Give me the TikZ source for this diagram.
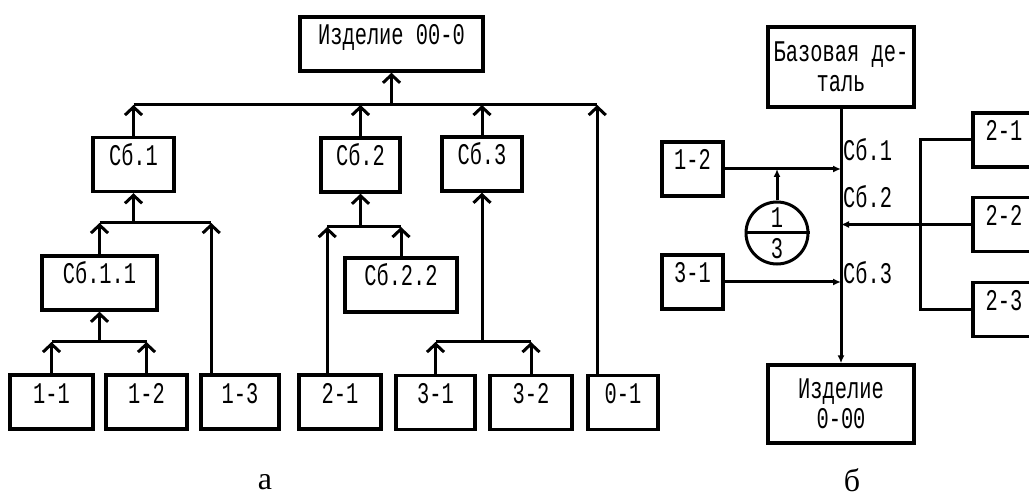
\documentclass[tikz,border=0pt]{standalone}
\usepackage{fontspec}
\setmainfont{Liberation Serif}
\newfontfamily\monofnt[FakeStretch=0.68]{Liberation Mono}
\usetikzlibrary{arrows.meta}
\newcommand{\lbl}{\monofnt\fontsize{30}{30}\selectfont}

\begin{document}
\begin{tikzpicture}[x=1pt,y=-1pt,
    blk/.style={draw,line width=3.5pt,inner sep=0pt,text height=28pt,text depth=26pt,font=\lbl},
    uparr/.style={line width=3pt,-{Straight Barb[length=8pt,width=17pt]}},
    thinarr/.style={line width=3pt,-{Latex[length=8pt,width=7pt]}}]
    \useasboundingbox (0,0) rectangle (1029,497);
    \clip (0,0) rectangle (1029,497);

    \node[blk,minimum width=183pt] (prod) at (391.5,44) {Изделие 00-0};
    \node[blk,minimum width=81pt] (sb1) at (133.5,164.5) {Сб.1};
    \node[blk,minimum width=79pt] (sb2) at (360.5,165) {Сб.2};
    \node[blk,minimum width=80pt] (sb3) at (482,164) {Сб.3};
    \node[blk,minimum width=115pt] (sb11) at (99.5,283) {Сб.1.1};
    \node[blk,minimum width=112pt] (sb22) at (401,285) {Сб.2.2};
    \node[blk,minimum width=83pt] (d11) at (51.5,402) {1-1};
    \node[blk,minimum width=81pt] (d12) at (146.5,402) {1-2};
    \node[blk,minimum width=78pt] (d13) at (240,402) {1-3};
    \node[blk,minimum width=82pt] (d21) at (340,402) {2-1};
    \node[blk,minimum width=79pt] (d31) at (435.5,402.5) {3-1};
    \node[blk,minimum width=82pt] (d32) at (531,402.5) {3-2};
    \node[blk,minimum width=70pt] (d01) at (623,402.5) {0-1};

    \coordinate (bus) at (0,105);
    \coordinate (b1) at (0,223);
    \coordinate (b2) at (0,342);
    \coordinate (b3) at (0,227);
    \coordinate (c01) at ([xshift=11pt]d01.north west);
    \coordinate (c13) at ([xshift=12pt]d13.north west);
    \coordinate (c21) at ([xshift=30pt]d21.north west);

    \draw[line width=3pt] (sb1.north |- bus) -- (c01 |- bus);
    \draw[uparr] (prod.south |- bus) -- (prod.south);
    \draw[uparr] (sb1.north) -- (sb1.north |- bus);
    \draw[uparr] (sb2.north) -- (sb2.north |- bus);
    \draw[uparr] (sb3.north) -- (sb3.north |- bus);
    \draw[uparr] (c01) -- (c01 |- bus);

    \draw[line width=3pt] (sb11.north |- b1) -- (c13 |- b1);
    \draw[uparr] (sb1.south |- b1) -- (sb1.south);
    \draw[uparr] (sb11.north) -- (sb11.north |- b1);
    \draw[uparr] (c13) -- (c13 |- b1);

    \draw[line width=3pt] (d11.north |- b2) -- (d12.north |- b2);
    \draw[uparr] (sb11.south |- b2) -- (sb11.south);
    \draw[uparr] (d11.north) -- (d11.north |- b2);
    \draw[uparr] (d12.north) -- (d12.north |- b2);

    \draw[line width=3pt] (c21 |- b3) -- (sb22.north |- b3);
    \draw[uparr] (sb2.south |- b3) -- (sb2.south);
    \draw[uparr] (c21) -- (c21 |- b3);
    \draw[uparr] (sb22.north) -- (sb22.north |- b3);

    \draw[line width=3pt] (d31.north |- b2) -- (d32.north |- b2);
    \draw[uparr] (sb3.south |- b2) -- (sb3.south);
    \draw[uparr] (d31.north) -- (d31.north |- b2);
    \draw[uparr] (d32.north) -- (d32.north |- b2);

    \node[draw,line width=3.5pt,minimum width=146pt,minimum height=80pt,align=center,font=\lbl] (base) at (841,67) {Базовая де-\\таль};
    \node[draw,line width=3.5pt,minimum width=146pt,minimum height=78pt,align=center,font=\lbl] (fin) at (841,404) {Изделие\\0-00};
    \node[blk,minimum width=61pt] (r12) at (692.5,169) {1-2};
    \node[blk,minimum width=61pt] (r31) at (692.5,282) {3-1};
    \node[blk,minimum width=62pt] (r21) at (1004,140) {2-1};
    \node[blk,minimum width=62pt] (r22) at (1004,224.5) {2-2};
    \node[blk,minimum width=62pt] (r23) at (1004,309.5) {2-3};
    \node[draw,circle,line width=3pt,minimum size=62pt,inner sep=0pt] (ring) at (777,233) {};
    \node[font=\lbl,inner sep=0pt] (n1) at (777,218) {1};
    \node[font=\lbl,inner sep=0pt] (n3) at (777,249) {3};
    \node[font=\lbl,inner sep=0pt,anchor=west] (l1) at (843,150) {Сб.1};
    \node[font=\lbl,inner sep=0pt,anchor=west] (l2) at (843,197) {Сб.2};
    \node[font=\lbl,inner sep=0pt,anchor=west] (l3) at (843,273) {Сб.3};

    \draw[thinarr] (base.south) -- (fin.north);
    \draw[thinarr] (r12.east) -- (r12.east -| base.south);
    \draw[thinarr] (r31.east) -- (r31.east -| base.south);
    \draw[line width=3pt] (ring.west) -- (ring.east);
    \draw[thinarr] (ring.north) -- (ring.north |- r12.east);
    \draw[line width=3pt] (r21.west) -- ++(-51,0) |- (r23.west);
    \draw[thinarr] (r22.west) -- (r22.west -| base.south);

    \node[font=\fontsize{32}{32}\selectfont,inner sep=0pt] (capa) at (265,482) {а};
    \node[font=\fontsize{32}{32}\selectfont,inner sep=0pt] (capb) at (852,480) {б};
\end{tikzpicture}
\end{document}
